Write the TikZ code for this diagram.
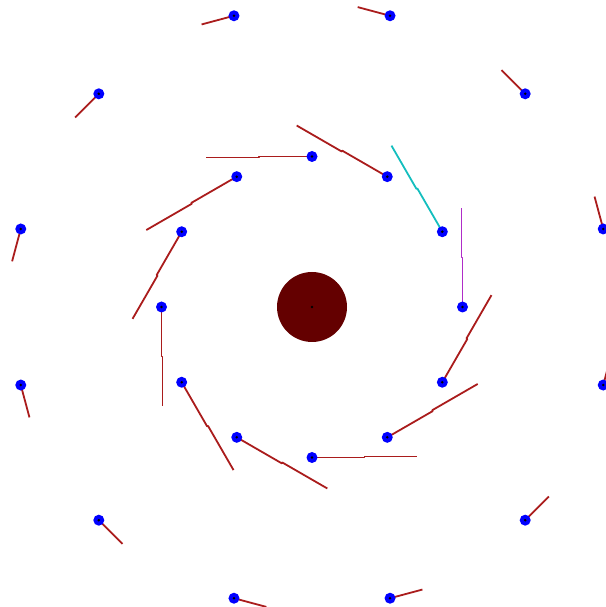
\documentclass[tikz,border=0pt]{standalone}
\usetikzlibrary{calc}
\definecolor{tailred}{RGB}{170,28,28}
\definecolor{tailcyan}{RGB}{20,190,190}
\definecolor{tailmag}{RGB}{175,45,200}
\definecolor{hubred}{RGB}{100,0,0}
\begin{document}
\begin{tikzpicture}[x=1pt,y=1pt,
  ball/.style={circle, fill=blue, minimum size=11pt, inner sep=0pt,
    path picture={\fill[black] (path picture bounding box.center) circle (1.4pt);}},
  hub/.style={circle, fill=hubred, minimum size=70pt, inner sep=0pt,
    path picture={\fill[black] (path picture bounding box.center) circle (1.4pt);}},
  tail/.style={line width=1.8pt, line join=round}]
\useasboundingbox (0,0) rectangle (605,607);
\coordinate (c) at (312,300);
% inner ring
\foreach \a/\L/\col [count=\i] in {90/106/tailred,60/104/tailred,30/100/tailcyan,0/99/tailmag,-30/100/tailred,-60/105/tailred,-90/105/tailred,-120/104/tailred,-150/102/tailred,180/99/tailred,150/100/tailred,120/105/tailred}{
  \coordinate (in\i) at ($(c)+(\a:150.5pt)$);
  \coordinate (mid\i) at ($(in\i)+(\a+90:\L pt/2)$);
  \coordinate (midb\i) at ($(mid\i)+(\a+180:1pt)$);
  \coordinate (end\i) at ($(midb\i)+(\a+90:\L pt/2)$);
  \draw[tail,\col] (in\i) -- (mid\i) -- (midb\i) -- (end\i);
}
% outer ring
\foreach \a [count=\i] in {15,45,...,345}{
  \coordinate (out\i) at ($(c)+(\a:301.5pt)$);
  \draw[tail,tailred] (out\i) -- ++(\a+90:33.5pt) coordinate (oe\i);
}
\node[hub] (hubnode) at (c) {};
\foreach \i in {1,...,12}{
  \node[ball] (din\i) at (in\i) {};
  \node[ball] (dout\i) at (out\i) {};
}
\end{tikzpicture}
\end{document}
